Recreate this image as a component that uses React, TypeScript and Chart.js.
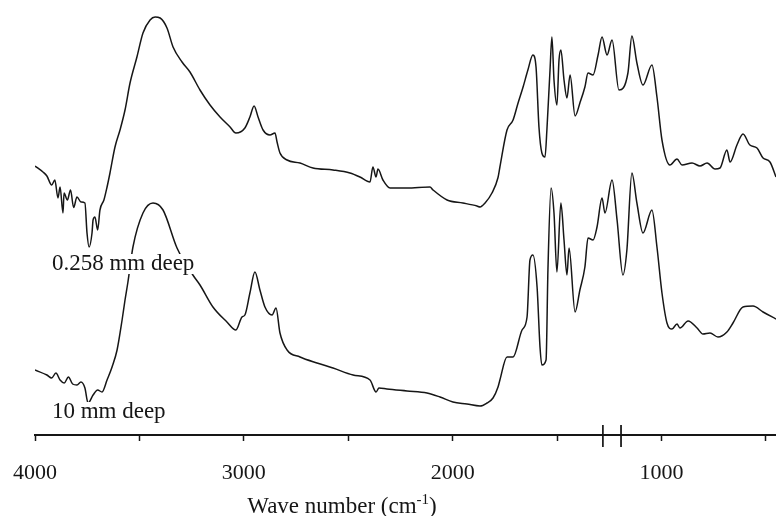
import { useEffect, useRef } from 'react';
import { Chart, registerables } from 'chart.js';

Chart.register(...registerables);

// Upper spectrum: 0.258 mm deep (wavenumber, arbitrary absorbance units)
const topWavenumbers = [
  4000, 3962, 3943, 3920, 3905, 3890, 3880, 3866, 3861, 3845, 3830, 3815, 3799, 3780, 3761, 3751,
  3741, 3727, 3722, 3713, 3700, 3689, 3670, 3655, 3641, 3617, 3593, 3569, 3545, 3512, 3483, 3449,
  3425, 3401, 3368, 3339, 3296, 3258, 3210, 3162, 3114, 3066, 3038, 2995, 2971, 2951, 2932, 2908,
  2875, 2851, 2841, 2827, 2793, 2731, 2669, 2573, 2492, 2444, 2396, 2382, 2367, 2358, 2334, 2300,
  2219, 2109, 2094, 2027, 1951, 1884, 1869, 1845, 1812, 1783, 1774, 1740, 1711, 1687, 1663, 1640,
  1616, 1601, 1587, 1573, 1558, 1549, 1534, 1525, 1515, 1501, 1491, 1482, 1467, 1453, 1438, 1414,
  1391, 1367, 1352, 1328, 1304, 1285, 1261, 1237, 1204, 1161, 1142, 1118, 1089, 1046, 1022, 998,
  960, 926, 902, 854, 816, 782, 744, 720, 687, 672, 639, 610, 577, 543, 514, 481, 452,
];
const topAbsorbance = [
  53.8, 52.6, 51.8, 50.0, 51.0, 47.4, 49.6, 44.4, 48.4, 47.0, 49.0, 45.5, 47.6, 46.6, 46.4, 40.4,
  37.6, 40.4, 43.0, 43.6, 41.0, 45.0, 47.0, 49.6, 52.4, 57.6, 61.0, 65.0, 70.4, 75.6, 80.4, 83.0,
  83.6, 83.4, 81.4, 77.6, 74.6, 72.6, 69.0, 66.0, 63.6, 61.6, 60.4, 61.4, 63.6, 65.8, 63.6, 61.0,
  60.0, 60.4, 58.6, 56.4, 55.0, 54.4, 53.4, 53.0, 52.4, 51.6, 50.6, 53.6, 51.6, 53.2, 51.0, 49.4,
  49.4, 49.6, 49.0, 47.0, 46.4, 45.8, 45.6, 46.4, 48.4, 51.5, 53.6, 61.0, 63.0, 66.4, 69.6, 73.0,
  76.0, 73.6, 61.6, 56.4, 55.6, 61.0, 73.0, 79.6, 71.0, 66.0, 75.0, 77.0, 71.0, 67.4, 72.0, 63.8,
  66.4, 69.6, 72.4, 72.0, 76.0, 79.6, 76.0, 79.0, 69.0, 72.4, 79.8, 74.4, 70.0, 74.0, 67.6, 59.0,
  54.0, 55.2, 54.0, 54.4, 53.8, 54.4, 53.2, 53.4, 57.0, 54.6, 58.0, 60.2, 58.0, 57.4, 55.4, 54.6, 51.6,
];

// Lower spectrum: 10 mm deep
const bottomWavenumbers = [
  4000, 3943, 3920, 3900, 3880, 3860, 3840, 3820, 3799, 3780, 3761, 3746, 3722, 3700, 3679, 3655,
  3631, 3607, 3583, 3569, 3555, 3531, 3483, 3435, 3387, 3320, 3244, 3210, 3148, 3081, 3038, 3009,
  2995, 2971, 2947, 2923, 2899, 2865, 2846, 2827, 2793, 2731, 2650, 2573, 2477, 2396, 2367, 2353,
  2315, 2219, 2123, 2061, 1999, 1932, 1869, 1836, 1807, 1783, 1774, 1740, 1711, 1668, 1644, 1630,
  1616, 1596, 1582, 1573, 1553, 1544, 1529, 1515, 1501, 1482, 1467, 1453, 1443, 1414, 1391, 1367,
  1352, 1328, 1309, 1285, 1271, 1237, 1213, 1185, 1166, 1142, 1118, 1089, 1046, 1022, 998, 974,
  950, 926, 912, 873, 830, 802, 768, 730, 687, 658, 610, 562, 514, 452,
];
const bottomAbsorbance = [
  13.0, 12.0, 11.4, 12.4, 11.0, 10.4, 11.6, 10.2, 10.0, 10.6, 9.4, 6.4, 8.0, 9.0, 8.6, 11.0,
  13.6, 17.0, 23.0, 27.0, 30.6, 37.6, 44.4, 46.4, 45.0, 37.4, 32.0, 30.0, 25.6, 22.6, 21.0, 23.6,
  24.0, 28.4, 32.6, 29.0, 25.6, 24.0, 25.4, 20.4, 17.0, 15.6, 14.4, 13.4, 12.0, 11.0, 8.6, 9.4,
  9.2, 8.8, 8.4, 7.6, 6.6, 6.2, 5.8, 6.4, 7.4, 9.6, 11.0, 15.6, 15.6, 21.0, 23.6, 35.0,
  36.0, 29.6, 17.6, 14.0, 15.0, 33.0, 49.4, 44.4, 32.6, 46.4, 39.0, 32.0, 37.4, 24.6, 29.0, 33.6,
  39.4, 39.0, 41.6, 47.4, 44.4, 51.0, 43.0, 32.0, 37.0, 52.4, 46.4, 40.4, 45.0, 37.6, 28.4, 22.4,
  21.2, 22.2, 21.4, 22.8, 21.4, 20.2, 20.4, 19.6, 20.6, 22.4, 25.6, 25.8, 24.6, 23.2,
];

// Two short marker strokes crossing the axis
const markerWavenumbers = [1281, 1194];
const markerTop = 2;
const markerBottom = -2.4;

const xTickValues = [4000, 3500, 3000, 2500, 2000, 1500, 1000, 500];
const xTickLabels = ['4000', '', '3000', '', '2000', '', '1000', ''];
const xMin = 452;
const xMax = 4000;
const yMin = 0;
const yMax = 87;

const sampleLabels = ['0.258 mm deep', '10 mm deep'];
const sampleLabelWavenumbers = [3919, 3919];
const sampleLabelAbsorbance = [34.2, 4.6];

const axisTitleMain = 'Wave number (cm';
const axisTitleSup = '-1';
const axisTitleEnd = ')';
const axisTitleCenterWavenumber = 2530;

const SERIF = '"Liberation Serif", "Times New Roman", serif';
const INK = '#161616';

const annotationPlugin = {
  id: 'irAnnotations',
  afterDatasetsDraw(chart: any) {
    const { ctx, scales } = chart;
    const xs = scales.x;
    const ys = scales.y;
    ctx.save();
    ctx.font = `23px ${SERIF}`;
    ctx.textBaseline = 'middle';
    ctx.textAlign = 'left';
    sampleLabels.forEach((txt, i) => {
      const px = xs.getPixelForValue(sampleLabelWavenumbers[i]);
      const py = ys.getPixelForValue(sampleLabelAbsorbance[i]);
      const w = ctx.measureText(txt).width;
      ctx.fillStyle = '#ffffff';
      ctx.fillRect(px - 2, py - 10, w + 4, 20);
      ctx.fillStyle = INK;
      ctx.fillText(txt, px, py);
    });
    // Axis title with superscript
    const mainFont = `23px ${SERIF}`;
    const supFont = `15px ${SERIF}`;
    ctx.font = mainFont;
    const w1 = ctx.measureText(axisTitleMain).width;
    const w3 = ctx.measureText(axisTitleEnd).width;
    ctx.font = supFont;
    const w2 = ctx.measureText(axisTitleSup).width;
    const total = w1 + w2 + w3;
    const cx = xs.getPixelForValue(axisTitleCenterWavenumber);
    const baseline = chart.height - 3;
    let x0 = cx - total / 2;
    ctx.textBaseline = 'alphabetic';
    ctx.fillStyle = INK;
    ctx.font = mainFont;
    ctx.fillText(axisTitleMain, x0, baseline);
    x0 += w1;
    ctx.font = supFont;
    ctx.fillText(axisTitleSup, x0, baseline - 9);
    x0 += w2;
    ctx.font = mainFont;
    ctx.fillText(axisTitleEnd, x0, baseline);
    ctx.restore();
  },
};

export default function App() {
  const canvasRef = useRef<HTMLCanvasElement | null>(null);

  useEffect(() => {
    if (!canvasRef.current) return;
    const toPoints = (xs: number[], ys: number[]) => xs.map((x, i) => ({ x, y: ys[i] }));
    const markerData: any[] = [];
    markerWavenumbers.forEach((w, i) => {
      if (i > 0) markerData.push({ x: (w + markerWavenumbers[i - 1]) / 2, y: null });
      markerData.push({ x: w, y: markerTop });
      markerData.push({ x: w, y: markerBottom });
    });

    const chart = new Chart(canvasRef.current, {
      type: 'line',
      data: {
        datasets: [
          {
            label: '0.258 mm deep',
            data: toPoints(topWavenumbers, topAbsorbance),
            borderColor: INK,
            borderWidth: 1.5,
            pointRadius: 0,
            cubicInterpolationMode: 'monotone',
            fill: false,
          },
          {
            label: '10 mm deep',
            data: toPoints(bottomWavenumbers, bottomAbsorbance),
            borderColor: INK,
            borderWidth: 1.5,
            pointRadius: 0,
            cubicInterpolationMode: 'monotone',
            fill: false,
          },
          {
            label: 'markers',
            data: markerData,
            borderColor: INK,
            borderWidth: 1,
            pointRadius: 0,
            spanGaps: false,
            clip: false as any,
            fill: false,
          },
        ],
      },
      options: {
        animation: false,
        responsive: false,
        events: [],
        layout: { padding: { left: 35, right: 0, top: 0, bottom: 0 } },
        plugins: {
          legend: { display: false },
          tooltip: { enabled: false },
          title: { display: false },
        },
        scales: {
          x: {
            type: 'linear',
            reverse: true,
            min: xMin,
            max: xMax,
            afterBuildTicks: (scale: any) => {
              scale.ticks = xTickValues.map((v) => ({ value: v }));
            },
            afterFit: (scale: any) => {
              scale.height = 81;
              scale.paddingLeft = 0;
              scale.paddingRight = 0;
            },
            ticks: {
              autoSkip: false,
              maxRotation: 0,
              padding: 19,
              color: INK,
              font: { family: SERIF, size: 22 },
              callback: (value: any) => {
                const idx = xTickValues.indexOf(Number(value));
                return idx >= 0 ? xTickLabels[idx] : '';
              },
            },
            grid: {
              display: true,
              drawOnChartArea: false,
              drawTicks: true,
              tickLength: 6,
              tickWidth: 1.5,
              color: INK,
            },
            border: { display: true, color: INK, width: 2 },
          },
          y: {
            type: 'linear',
            display: false,
            min: yMin,
            max: yMax,
          },
        },
      },
      plugins: [annotationPlugin],
    } as any);

    return () => chart.destroy();
  }, []);

  return (
    <div style={{ position: 'absolute', left: 0, top: 0, width: 776, height: 516, background: '#ffffff' }}>
      <canvas ref={canvasRef} width={776} height={516} style={{ display: 'block' }} />
    </div>
  );
}
